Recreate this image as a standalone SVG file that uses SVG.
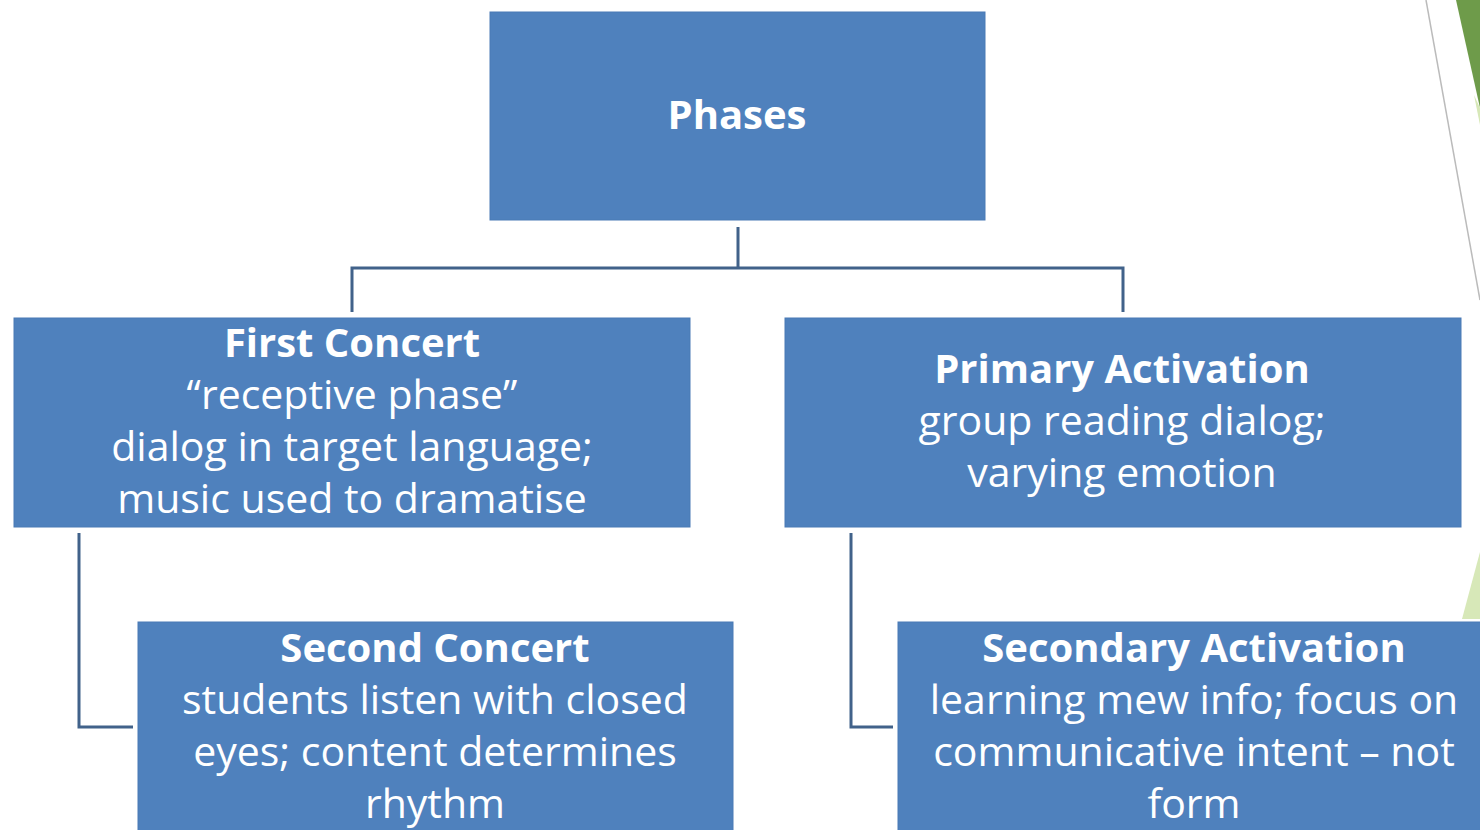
<svg xmlns="http://www.w3.org/2000/svg" width="1480" height="830" viewBox="0 0 1480 830">
<style>
.box{fill:#4F81BD;stroke:#4A7AB5;stroke-width:1}
.t{font-family:"Open Sans","Liberation Sans",sans-serif;font-size:41px;fill:#fff;text-anchor:middle}
.b{font-weight:bold;font-size:40px}
.c{fill:none;stroke:#41628A;stroke-width:3}
</style>
<rect width="1480" height="830" fill="#fff"/>
<g id="decor">
<polygon points="1456,0 1480,0 1480,108" fill="#6E9B4A"/>
<polygon points="1474,95 1480,108 1480,125" fill="#D7E8B8"/>
<line x1="1426" y1="0" x2="1480" y2="300" stroke="#BBBBBB" stroke-width="1.5"/>
<polygon points="1462,619 1480,552 1480,619" fill="#D7E8B8"/>
</g>
<g id="connectors">
<path class="c" d="M738,227 V268 M352,312 V268 H1123 V312"/>
<path class="c" d="M79,533 V727 H133"/>
<path class="c" d="M851,533 V727 H893"/>
</g>
<g id="phases">
<rect class="box" x="490" y="12" width="495" height="208"/>
<text class="t b" x="737" y="129">Phases</text>
</g>
<g id="first-concert">
<rect class="box" x="14" y="318" width="676" height="209"/>
<text class="t b" x="352" y="357">First Concert</text>
<text class="t" x="352" y="409">“receptive phase”</text>
<text class="t" x="352" y="461">dialog in target language;</text>
<text class="t" x="352" y="513">music used to dramatise</text>
</g>
<g id="primary-activation">
<rect class="box" x="785" y="318" width="676" height="209"/>
<text class="t b" x="1122" y="383">Primary Activation</text>
<text class="t" x="1122" y="435">group reading dialog;</text>
<text class="t" x="1122" y="487">varying emotion</text>
</g>
<g id="second-concert">
<rect class="box" x="138" y="622" width="595" height="220"/>
<text class="t b" x="435" y="662">Second Concert</text>
<text class="t" x="435" y="714">students listen with closed</text>
<text class="t" x="435" y="766">eyes; content determines</text>
<text class="t" x="435" y="818">rhythm</text>
</g>
<g id="secondary-activation">
<rect class="box" x="898" y="622" width="600" height="220"/>
<text class="t b" x="1194" y="662">Secondary Activation</text>
<text class="t" x="1194" y="714">learning mew info; focus on</text>
<text class="t" x="1194" y="766">communicative intent – not</text>
<text class="t" x="1194" y="818">form</text>
</g>
</svg>
